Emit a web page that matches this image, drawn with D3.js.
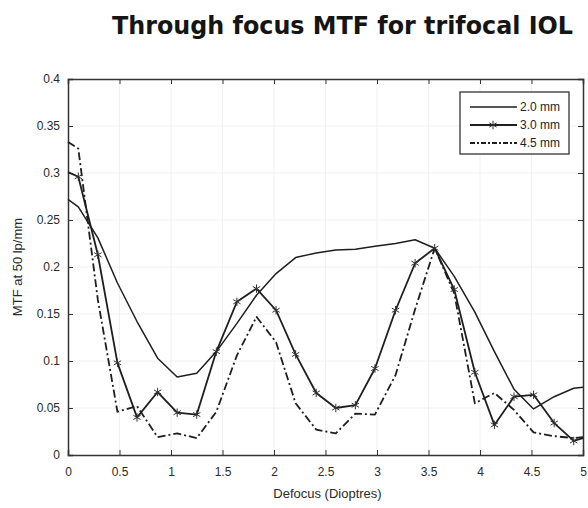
<!DOCTYPE html>
<html>
<head>
<meta charset="utf-8">
<script src="https://cdn.jsdelivr.net/npm/d3@7"></script>
<style>
  body { margin: 0; background: #fff; }
  svg { display: block; }
</style>
</head>
<body>
<svg id="chart" width="588" height="508"></svg>
<script>
// defocus samples (D)
const defocus = [0, 0.1, 0.29, 0.48, 0.67, 0.87, 1.06, 1.25, 1.44, 1.64, 1.83, 2.02, 2.21, 2.41,
  2.6, 2.79, 2.98, 3.18, 3.37, 3.56, 3.75, 3.95, 4.14, 4.33, 4.52, 4.72, 4.91, 5.0];

const mtf20 = [0.272, 0.264, 0.231, 0.183, 0.142, 0.103, 0.083, 0.087, 0.110, 0.140, 0.170, 0.193, 0.210, 0.215,
  0.218, 0.219, 0.222, 0.225, 0.229, 0.220, 0.190, 0.152, 0.110, 0.070, 0.049, 0.062, 0.071, 0.072];
const mtf30 = [0.301, 0.296, 0.213, 0.098, 0.040, 0.067, 0.045, 0.043, 0.110, 0.163, 0.177, 0.154, 0.107, 0.066,
  0.050, 0.053, 0.092, 0.154, 0.204, 0.220, 0.176, 0.088, 0.032, 0.062, 0.064, 0.034, 0.015, 0.018];
const mtf45 = [0.333, 0.326, 0.165, 0.046, 0.052, 0.019, 0.023, 0.018, 0.046, 0.106, 0.147, 0.120, 0.055, 0.027,
  0.023, 0.044, 0.043, 0.085, 0.155, 0.220, 0.172, 0.055, 0.066, 0.048, 0.024, 0.020, 0.018, 0.019];

const seriesNames = ['2.0 mm', '3.0 mm', '4.5 mm'];
const xTicks = [0, 0.5, 1, 1.5, 2, 2.5, 3, 3.5, 4, 4.5, 5];
const yTicks = [0, 0.05, 0.1, 0.15, 0.2, 0.25, 0.3, 0.35, 0.4];

const svg = d3.select('#chart');
const margin = { left: 68, right: 5, top: 79, bottom: 53 };
const W = 588, H = 508;

const x = d3.scaleLinear().domain([0, 5]).range([margin.left, W - margin.right]);
const y = d3.scaleLinear().domain([0, 0.4]).range([H - margin.bottom, margin.top]);

const ink = '#1e1e1e';

// title
svg.append('text')
  .attr('x', 573).attr('y', 34)
  .attr('text-anchor', 'end')
  .attr('font-family', 'DejaVu Sans')
  .attr('font-weight', 'bold')
  .attr('font-size', 24)
  .attr('fill', '#151515')
  .attr('textLength', 461)
  .attr('lengthAdjust', 'spacingAndGlyphs')
  .text('Through focus MTF for trifocal IOL');

// faint grid
const grid = svg.append('g').attr('stroke', '#f0f0f0').attr('stroke-width', 1);
grid.selectAll('line.gx').data(xTicks.slice(1, -1)).enter().append('line')
  .attr('x1', d => x(d)).attr('x2', d => x(d))
  .attr('y1', y(0)).attr('y2', y(0.4));
grid.selectAll('line.gy').data(yTicks.slice(1, -1)).enter().append('line')
  .attr('x1', x(0)).attr('x2', x(5))
  .attr('y1', d => y(d)).attr('y2', d => y(d));

// axes with inward ticks on all sides
const fontAxis = 'Liberation Sans, Arial, sans-serif';
const xAxis = svg.append('g').attr('transform', `translate(0,${y(0)})`)
  .call(d3.axisBottom(x).tickValues(xTicks).tickSize(-5).tickPadding(12).tickFormat(d3.format('')));
const xTop = svg.append('g').attr('transform', `translate(0,${y(0.4)})`)
  .call(d3.axisTop(x).tickValues(xTicks).tickSize(-5).tickFormat(''));
const yAxis = svg.append('g').attr('transform', `translate(${x(0)},0)`)
  .call(d3.axisLeft(y).tickValues(yTicks).tickSize(-5).tickPadding(8).tickFormat(d3.format('')));
const yRight = svg.append('g').attr('transform', `translate(${x(5)},0)`)
  .call(d3.axisRight(y).tickValues(yTicks).tickSize(-5).tickFormat(''));

[xAxis, xTop, yAxis, yRight].forEach(g => {
  g.select('.domain').attr('stroke', '#333').attr('stroke-width', 1.5);
  g.selectAll('.tick line').attr('stroke', '#333');
  g.selectAll('text').attr('font-family', fontAxis).attr('font-size', 12).attr('fill', '#2a2a2a');
});

// axis labels
svg.append('text')
  .attr('x', x(2.5) + 2).attr('y', 498)
  .attr('text-anchor', 'middle')
  .attr('font-family', fontAxis).attr('font-size', 13).attr('fill', '#2a2a2a')
  .text('Defocus (Dioptres)');
svg.append('text')
  .attr('transform', `translate(22,${y(0.2)}) rotate(-90)`)
  .attr('text-anchor', 'middle')
  .attr('font-family', fontAxis).attr('font-size', 13).attr('fill', '#2a2a2a')
  .text('MTF at 50 lp/mm');

// lines
const line = d3.line().x(d => x(d[0])).y(d => y(d[1]));
const pairs = vals => defocus.map((d, i) => [d, vals[i]]);

const styles = [
  { vals: mtf20, dash: null, width: 1.5 },
  { vals: mtf30, dash: null, width: 1.8 },
  { vals: mtf45, dash: '8,3,2,3', width: 1.8 }
];

styles.forEach(s => {
  svg.append('path')
    .datum(pairs(s.vals))
    .attr('fill', 'none')
    .attr('stroke', ink)
    .attr('stroke-width', s.width)
    .attr('stroke-linejoin', 'round')
    .attr('stroke-dasharray', s.dash)
    .attr('d', line);
});

// star markers on 3.0 mm
const star = d3.symbol(d3.symbolAsterisk, 50);
svg.append('g').selectAll('path')
  .data(pairs(mtf30).slice(1, -1))
  .enter().append('path')
  .attr('transform', d => `translate(${x(d[0])},${y(d[1])})`)
  .attr('d', star)
  .attr('fill', 'none')
  .attr('stroke', '#333')
  .attr('stroke-width', 1);

// legend
const lg = svg.append('g');
lg.append('rect')
  .attr('x', 460).attr('y', 92).attr('width', 109).attr('height', 62)
  .attr('fill', '#fff').attr('stroke', '#333').attr('stroke-width', 1.3);

seriesNames.forEach((name, i) => {
  const ly = 107 + i * 18;
  lg.append('line')
    .attr('x1', 470).attr('x2', 517).attr('y1', ly).attr('y2', ly)
    .attr('stroke', ink)
    .attr('stroke-width', styles[i].width)
    .attr('stroke-dasharray', styles[i].dash ? '5,2,2,2' : null);
  if (i === 1) {
    lg.append('path')
      .attr('transform', `translate(493,${ly})`)
      .attr('d', star)
      .attr('fill', 'none').attr('stroke', '#333');
  }
  lg.append('text')
    .attr('x', 520).attr('y', ly + 4)
    .attr('font-family', fontAxis).attr('font-size', 12).attr('fill', '#1e1e1e')
    .text(name);
});
</script>
</body>
</html>
